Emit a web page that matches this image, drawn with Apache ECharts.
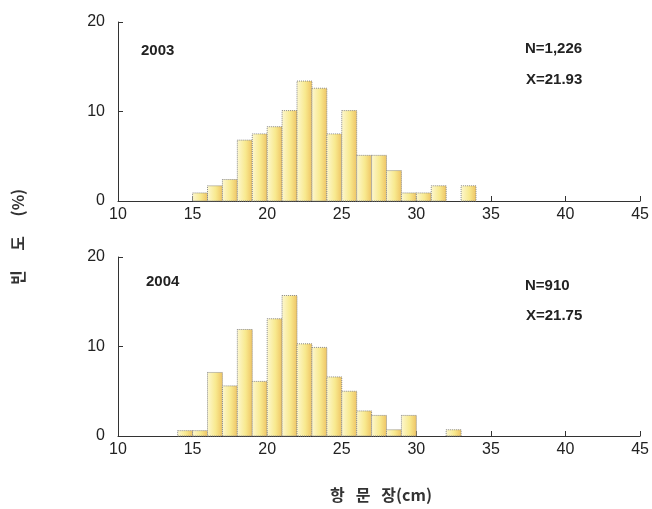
<!DOCTYPE html>
<html>
<head>
<meta charset="utf-8">
<script src="https://cdn.jsdelivr.net/npm/echarts@6/dist/echarts.min.js"></script>
<style>
html,body{margin:0;padding:0;background:#fff;}
#chart{width:652px;height:509px;}
</style>
</head>
<body>
<div id="chart"></div>
<script>
// ---- data ----
const xMin = 10, xMax = 45, xStep = 5;
const yMin = 0, yMax = 20, yStep = 10;
const binStart2003 = [15,16,17,18,19,20,21,22,23,24,25,26,27,28,29,30,31,33];
const freq2003     = [0.9,1.7,2.4,6.8,7.5,8.3,10.1,13.4,12.6,7.5,10.1,5.1,5.1,3.4,0.9,0.9,1.7,1.7];
const binStart2004 = [14,15,16,17,18,19,20,21,22,23,24,25,26,27,28,29,32];
const freq2004     = [0.6,0.6,7.1,5.6,11.9,6.1,13.1,15.7,10.3,9.9,6.6,5.0,2.8,2.3,0.7,2.3,0.7];
const binWidth = 1;
const panelLabels = ['2003', '2004'];
const nLabels = ['N=1,226', 'N=910'];
const meanLabels = ['X=21.93', 'X=21.75'];
const yName = '빈\u3000 도\u3000 (%)';
const xName = '항   문   장(cm)';

const chart = echarts.init(document.getElementById('chart'));
const numFont = '"Liberation Sans", Arial, sans-serif';

function barFill() {
  return new echarts.graphic.LinearGradient(0, 0, 1, 0, [
    {offset: 0, color: '#fdf8d2'},
    {offset: 0.55, color: '#f8e98e'},
    {offset: 1, color: '#eec262'}
  ]);
}
function renderBar(params, api) {
  const x0 = api.value(0), h = api.value(1);
  const p0 = api.coord([x0, 0]);
  const p1 = api.coord([x0 + binWidth, h]);
  return {
    type: 'rect',
    shape: {x: p0[0], y: p1[1], width: p1[0] - p0[0], height: p0[1] - p1[1]},
    style: {fill: barFill(), stroke: '#8a8a8a', lineWidth: 1, lineDash: [1, 1]}
  };
}
function xAxisCfg(gi) {
  return {
    gridIndex: gi, type: 'value', min: xMin, max: xMax, interval: xStep,
    axisLine: {show: true, lineStyle: {color: '#333', width: 1}},
    axisTick: {show: true, inside: true, length: 5, lineStyle: {color: '#333'}},
    axisLabel: {fontSize: 16, color: '#222', margin: 6, fontFamily: numFont},
    splitLine: {show: false}
  };
}
function yAxisCfg(gi) {
  return {
    gridIndex: gi, type: 'value', min: yMin, max: yMax, interval: yStep,
    axisLine: {show: true, lineStyle: {color: '#333', width: 1}},
    axisTick: {show: true, inside: true, length: 5, lineStyle: {color: '#333'}},
    axisLabel: {fontSize: 16, color: '#222', margin: 13, fontFamily: numFont},
    splitLine: {show: false}
  };
}
function txt(x, y, s, size, weight, align) {
  return {type: 'text', x: x, y: y, style: {text: s, font: weight + ' ' + size + 'px ' + numFont, fill: '#222', align: align || 'left', verticalAlign: 'middle'}};
}

chart.setOption({
  animation: false,
  grid: [
    {left: 118, right: 9, top: 22, height: 179},
    {left: 118, right: 9, top: 257, height: 179}
  ],
  xAxis: [xAxisCfg(0), xAxisCfg(1)],
  yAxis: [yAxisCfg(0), yAxisCfg(1)],
  series: [
    {type: 'custom', xAxisIndex: 0, yAxisIndex: 0, renderItem: renderBar,
     encode: {x: 0, y: 1}, data: binStart2003.map((b, i) => [b, freq2003[i]])},
    {type: 'custom', xAxisIndex: 1, yAxisIndex: 1, renderItem: renderBar,
     encode: {x: 0, y: 1}, data: binStart2004.map((b, i) => [b, freq2004[i]])}
  ],
  graphic: [
    txt(141, 51, panelLabels[0], 15, 'bold'),
    txt(525, 49, nLabels[0], 15, 'bold'),
    txt(526, 80, meanLabels[0], 15, 'bold'),
    txt(146, 282, panelLabels[1], 15, 'bold'),
    txt(525, 286, nLabels[1], 15, 'bold'),
    txt(526, 316, meanLabels[1], 15, 'bold'),
    {type: 'text', x: 18, y: 237, rotation: Math.PI / 2,
     style: {text: yName, font: 'bold 16px "Noto Sans CJK KR", sans-serif', fill: '#333', align: 'center', verticalAlign: 'middle'}},
    {type: 'text', x: 381, y: 495,
     style: {text: xName, font: 'bold 16px "Noto Sans CJK KR", sans-serif', fill: '#333', align: 'center', verticalAlign: 'middle'}}
  ]
});
</script>
</body>
</html>
